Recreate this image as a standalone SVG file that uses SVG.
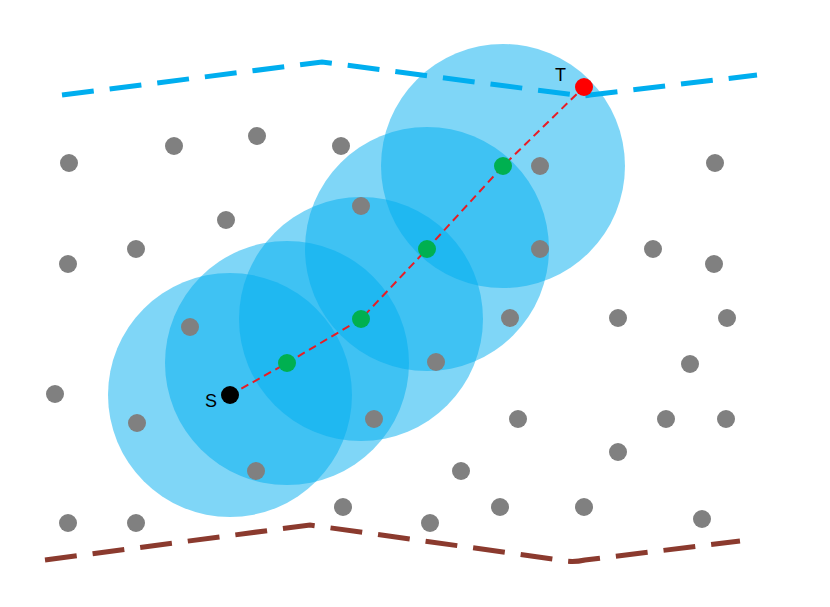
<svg xmlns="http://www.w3.org/2000/svg" width="830" height="607" viewBox="0 0 830 607">
<style>
.c{fill:#00aeef;fill-opacity:0.5}
.g{fill:#808080}
.n{fill:#00b050}
.b{fill:none;stroke-width:5;stroke-dasharray:32 16}
text{font-family:"Liberation Sans",sans-serif;font-size:18px;fill:#000}
</style>
<rect width="830" height="607" fill="#fff"/>
<g id="boundaries">
<path class="b" stroke="#00aeef" d="M62,95 L322,62 L575,95 Q580,97 590,95 L757,75"/>
<path class="b" stroke="#8b3a2e" d="M45,560 L310,525 L560,560 Q572,563 585,560 L740,541"/>
</g>
<g id="ranges">
<circle class="c" cx="230" cy="395" r="122"/>
<circle class="c" cx="287" cy="363" r="122"/>
<circle class="c" cx="361" cy="319" r="122"/>
<circle class="c" cx="427" cy="249" r="122"/>
<circle class="c" cx="503" cy="166" r="122"/>
</g>
<g id="sensors">
<circle class="g" cx="69" cy="163" r="9"/><circle class="g" cx="174" cy="146" r="9"/><circle class="g" cx="257" cy="136" r="9"/><circle class="g" cx="341" cy="146" r="9"/><circle class="g" cx="226" cy="220" r="9"/><circle class="g" cx="361" cy="206" r="9"/><circle class="g" cx="540" cy="166" r="9"/><circle class="g" cx="715" cy="163" r="9"/><circle class="g" cx="68" cy="264" r="9"/><circle class="g" cx="136" cy="249" r="9"/><circle class="g" cx="540" cy="249" r="9"/><circle class="g" cx="653" cy="249" r="9"/><circle class="g" cx="714" cy="264" r="9"/><circle class="g" cx="190" cy="327" r="9"/><circle class="g" cx="510" cy="318" r="9"/><circle class="g" cx="618" cy="318" r="9"/><circle class="g" cx="727" cy="318" r="9"/><circle class="g" cx="436" cy="362" r="9"/><circle class="g" cx="690" cy="364" r="9"/><circle class="g" cx="55" cy="394" r="9"/><circle class="g" cx="137" cy="423" r="9"/><circle class="g" cx="374" cy="419" r="9"/><circle class="g" cx="518" cy="419" r="9"/><circle class="g" cx="666" cy="419" r="9"/><circle class="g" cx="726" cy="419" r="9"/><circle class="g" cx="461" cy="471" r="9"/><circle class="g" cx="618" cy="452" r="9"/><circle class="g" cx="256" cy="471" r="9"/><circle class="g" cx="68" cy="523" r="9"/><circle class="g" cx="136" cy="523" r="9"/><circle class="g" cx="343" cy="507" r="9"/><circle class="g" cx="430" cy="523" r="9"/><circle class="g" cx="500" cy="507" r="9"/><circle class="g" cx="584" cy="507" r="9"/><circle class="g" cx="702" cy="519" r="9"/>
</g>
<g id="connectors">
<path d="M230,395 L287,363 L361,319 L427,249 L503,166 L584,87" fill="none" stroke="#e81c24" stroke-width="2" stroke-dasharray="8 5"/>
</g>
<g id="relays">
<circle class="n" cx="287" cy="363" r="9"/><circle class="n" cx="361" cy="319" r="9"/><circle class="n" cx="427" cy="249" r="9"/><circle class="n" cx="503" cy="166" r="9"/>
</g>
<g id="S"><circle cx="230" cy="395" r="9" fill="#000"/><text x="205" y="407">S</text></g>
<g id="T"><circle cx="584" cy="87" r="9" fill="#ff0000"/><text x="555" y="81">T</text></g>
</svg>
